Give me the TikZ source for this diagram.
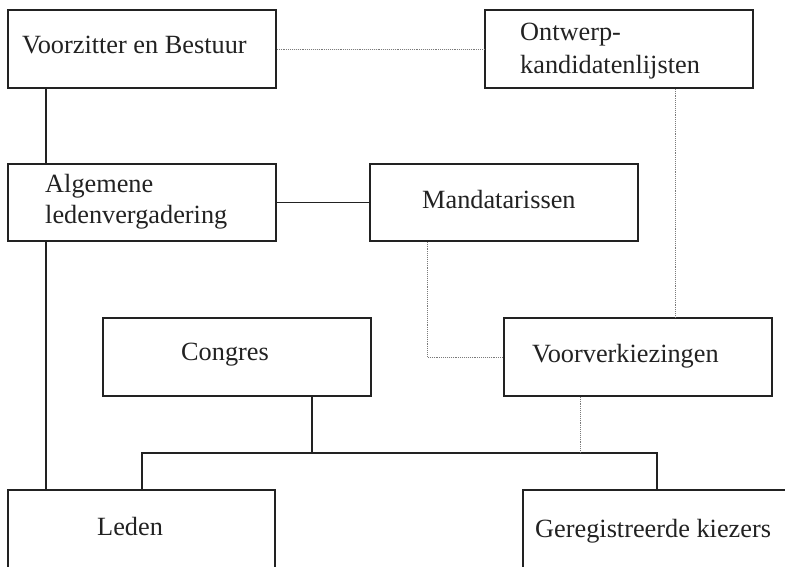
\documentclass[tikz,border=0pt]{standalone}
\usepackage{fontspec}
\setmainfont{Liberation Serif}
\definecolor{ink}{HTML}{222222}
\definecolor{dotink}{HTML}{7A7A7A}
\tikzset{
  box/.style={draw=ink, line width=1.7pt, fill=white, rectangle, inner sep=0pt},
  lbl/.style={anchor=base west, inner sep=0pt, text=ink, align=left,
    font=\fontsize{26.3}{32}\selectfont},
  solidcon/.style={draw=ink, line width=1.5pt},
  dotcon/.style={draw=dotink, line width=0.9pt, densely dotted},
}
\begin{document}
\begin{tikzpicture}[x=1pt,y=-1pt]
\useasboundingbox (0,0) rectangle (785,566);
\clip (0,0) rectangle (785,566);
\fill[white] (0,0) rectangle (785,566);
% boxes
\node[box, minimum width=268pt, minimum height=78pt] (b1) at (142,49) {};
\node[box, minimum width=268pt, minimum height=78pt] (b2) at (619,49) {};
\node[box, minimum width=268pt, minimum height=77pt] (b3) at (142,202.5) {};
\node[box, minimum width=268pt, minimum height=77pt] (mand) at (504,202.5) {};
\node[box, minimum width=268pt, minimum height=78pt] (cong) at (237,357) {};
\node[box, minimum width=268pt, minimum height=78pt] (voor) at (638,357) {};
\node[box, minimum width=267pt, minimum height=150pt] (leden) at (141.5,565) {};
\node[box, minimum width=327pt, minimum height=150pt] (ger) at (686.5,565) {};
% labels (base anchor of a two-line label = baseline of its last line)
\node[lbl] (t1) at (22,53) {Voorzitter en Bestuur};
\node[lbl, font=\fontsize{26.3}{33}\selectfont] (t2) at (520,73) {Ontwerp-\\kandidatenlijsten};
\node[lbl, font=\fontsize{26.3}{31}\selectfont] (t3) at (45,223.5) {Algemene\\ledenvergadering};
\node[lbl] (t4) at (422,208) {Mandatarissen};
\node[lbl] (t5) at (181,360) {Congres};
\node[lbl] (t6) at (532,362) {Voorverkiezingen};
\node[lbl] (t7) at (97,535) {Leden};
\node[lbl] (t8) at (535,537) {Geregistreerde kiezers};
% connector helper points
\coordinate (xl) at (46,0);
\coordinate (cb) at ([xshift=210pt]cong.south west);
\coordinate (j) at (cb |- 0,453);
\coordinate (jl) at (142,453);
\coordinate (jr) at (657,453);
\coordinate (md) at ([xshift=58pt]mand.south west);
\coordinate (od) at ([xshift=191pt]b2.south west);
\coordinate (vd) at ([xshift=77pt]voor.south west);
% solid connectors
\draw[solidcon] (xl |- b1.south) -- (xl |- b3.north);
\draw[solidcon] (xl |- b3.south) -- (xl |- leden.north);
\draw[solidcon] (b3.east) -- (mand.west);
\draw[solidcon] (cb) -- (j);
\draw[solidcon] (jl |- leden.north) -- (jl) -- (jr) -- (jr |- ger.north);
% dotted connectors
\draw[dotcon] (b1.east) -- (b2.west);
\draw[dotcon] (md) |- (voor.west);
\draw[dotcon] (od) -- (od |- voor.north);
\draw[dotcon] (vd) -- (vd |- jr);
\end{tikzpicture}
\end{document}
